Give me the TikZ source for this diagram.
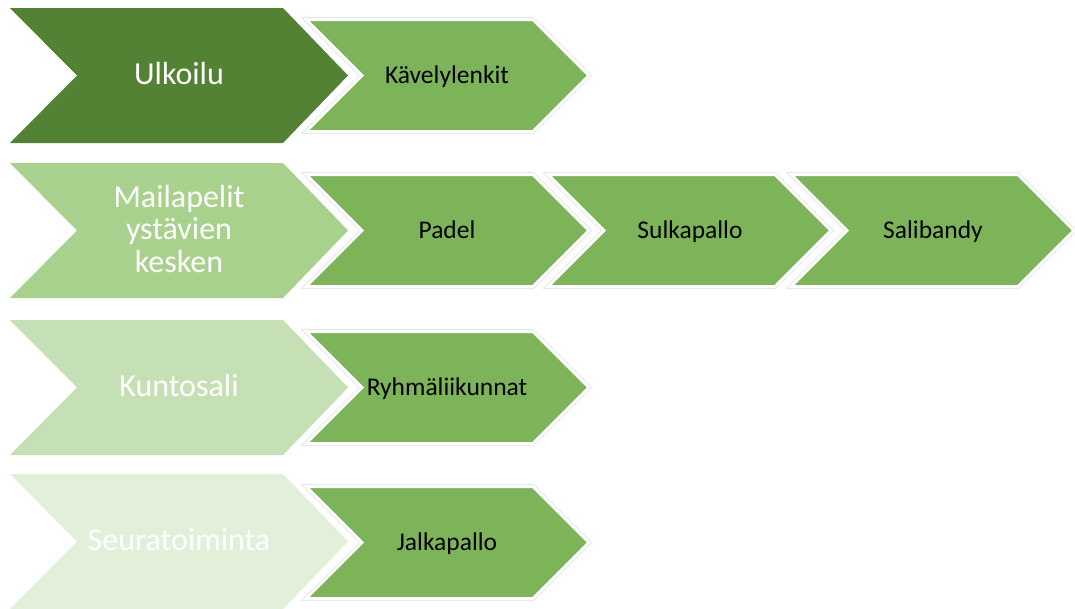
\documentclass[tikz,border=0pt]{standalone}
\usepackage{fontspec}
\setmainfont{Carlito}
\definecolor{gA}{HTML}{548235}
\definecolor{gB}{HTML}{A9D18E}
\definecolor{gC}{HTML}{C5E0B4}
\definecolor{gD}{HTML}{E2F0D9}
\definecolor{gS}{HTML}{7DB45A}
\definecolor{edge}{HTML}{D6D9E2}
\tikzset{
  bigtext/.style={text=white, font=\fontsize{32}{32.5}\selectfont, align=center, inner sep=0pt},
  smalltext/.style={text=black, font=\fontsize{25.5}{28}\selectfont, inner sep=0pt, anchor=base},
  smallshape/.style={fill=gS, draw=white, line width=3pt, line join=miter},
  smalledge/.style={draw=edge, line width=4.2pt, line join=miter},
}
% big chevron: #1 centre y, #2 colour
\newcommand{\bigchev}[2]{%
  \fill[#2] (10,#1-67.5) -- (283,#1-67.5) -- (348,#1) -- (283,#1+67.5) -- (10,#1+67.5) -- (77,#1) -- cycle;}
% small chevron: #1 left x, #2 centre y
\newcommand{\smallchev}[2]{%
  \draw[smalledge] (#1,#2-56) -- (#1+227,#2-56) -- (#1+283,#2) -- (#1+227,#2+56) -- (#1,#2+56) -- (#1+56,#2) -- cycle;
  \filldraw[smallshape] (#1,#2-56) -- (#1+227,#2-56) -- (#1+283,#2) -- (#1+227,#2+56) -- (#1,#2+56) -- (#1+56,#2) -- cycle;}
\begin{document}
\begin{tikzpicture}[x=1pt,y=-1pt]
\useasboundingbox[fill=white] (0,0) rectangle (1075,608);
% row 1
\bigchev{75.5}{gA}
\smallchev{306}{75.5}
\node[bigtext, anchor=base] (ulk) at (179,84.5) {Ulkoilu};
\node[smalltext] (kav) at (447,83) {Kävelylenkit};
% row 2
\bigchev{230.5}{gB}
\smallchev{306}{230.5}
\smallchev{548}{230.5}
\smallchev{791}{230.5}
\node[bigtext] (mai) at (179,229) {Mailapelit\\ystävien\\kesken};
\node[smalltext] (pad) at (447,238) {Padel};
\node[smalltext] (sul) at (690,238) {Sulkapallo};
\node[smalltext] (sal) at (933,238) {Salibandy};
% row 3
\bigchev{387.5}{gC}
\smallchev{306}{387.5}
\node[bigtext, anchor=base] (kun) at (179,396.5) {Kuntosali};
\node[smalltext] (ryh) at (447,395) {Ryhmäliikunnat};
% row 4
\bigchev{541.5}{gD}
\smallchev{306}{542.5}
\node[bigtext, anchor=base] (seu) at (179,550.5) {Seuratoiminta};
\node[smalltext] (jal) at (447,550) {Jalkapallo};
\end{tikzpicture}
\end{document}
